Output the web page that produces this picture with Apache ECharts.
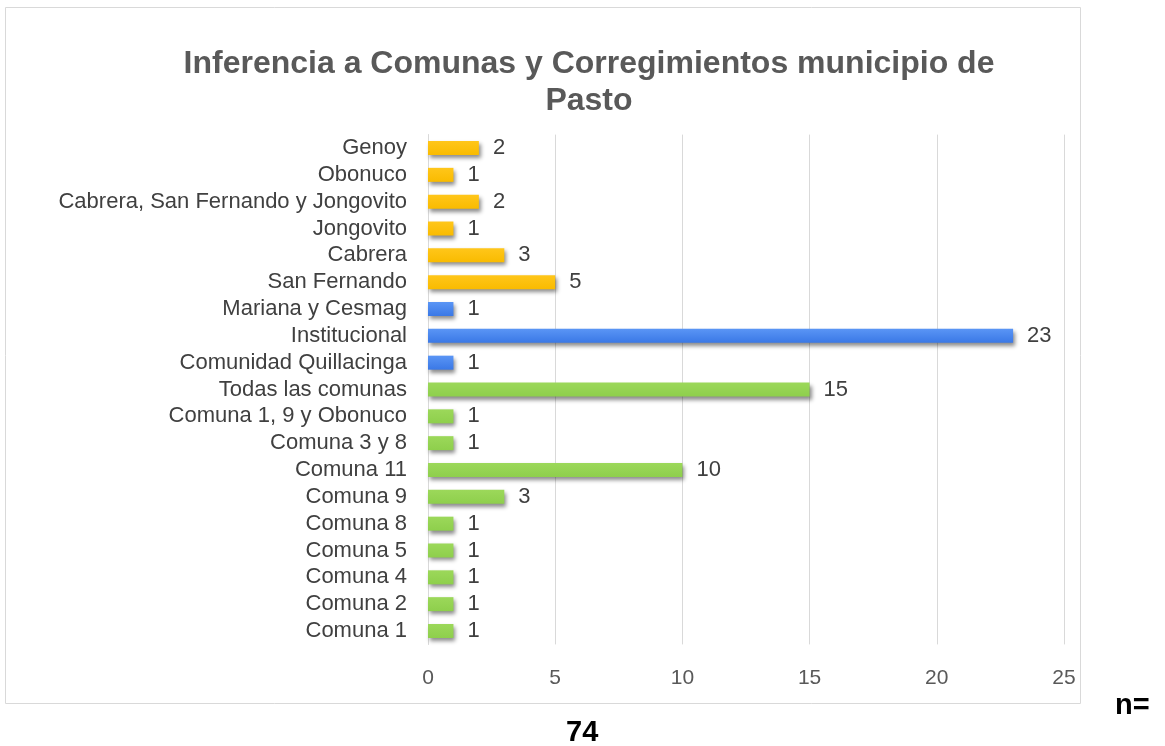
<!DOCTYPE html>
<html>
<head>
    <meta charset="utf-8">
    <title>Inferencia a Comunas y Corregimientos</title>
    <script src="https://cdn.jsdelivr.net/npm/echarts@6/dist/echarts.min.js"></script>
    <style>
        html, body { margin: 0; padding: 0; background: #fff; }
        #chart { width: 1165px; height: 746px; }
    </style>
</head>
<body>
<div id="chart"></div>
<script type="text/javascript">
    // categorias de arriba hacia abajo
    var categorias = ['Genoy', 'Obonuco', 'Cabrera, San Fernando y Jongovito', 'Jongovito', 'Cabrera',
        'San Fernando', 'Mariana y Cesmag', 'Institucional', 'Comunidad Quillacinga', 'Todas las comunas',
        'Comuna 1, 9 y Obonuco', 'Comuna 3 y 8', 'Comuna 11', 'Comuna 9', 'Comuna 8', 'Comuna 5',
        'Comuna 4', 'Comuna 2', 'Comuna 1'];
    var valores = [2, 1, 2, 1, 3, 5, 1, 23, 1, 15, 1, 1, 10, 3, 1, 1, 1, 1, 1];
    // grupo: 0 = corregimientos, 1 = otros, 2 = comunas
    var grupos = [0, 0, 0, 0, 0, 0, 1, 1, 1, 2, 2, 2, 2, 2, 2, 2, 2, 2, 2];
    var ticksX = [0, 5, 10, 15, 20, 25];

    var colores = [
        ['#FFC61A', '#F9BB00'],
        ['#5A95F5', '#3A78E6'],
        ['#9CD85A', '#8ECF4C']
    ];

    var myChart = echarts.init(document.getElementById('chart'));

    var datos = valores.map(function (v, i) {
        var c = colores[grupos[i]];
        return {
            value: v,
            itemStyle: {
                color: new echarts.graphic.LinearGradient(0, 0, 0, 1, [
                    {offset: 0, color: c[0]},
                    {offset: 1, color: c[1]}
                ])
            }
        };
    });

    myChart.setOption({
        animation: false,
        title: {
            text: 'Inferencia a Comunas y Corregimientos municipio de\nPasto',
            left: 584,
            textAlign: 'center',
            top: 41,
            textStyle: {
                fontFamily: 'Liberation Sans, Arial',
                fontSize: 32,
                fontWeight: 'bold',
                color: '#595959',
                lineHeight: 37
            }
        },
        graphic: [
            {
                type: 'rect',
                shape: {x: 5.5, y: 7.5, width: 1075, height: 696},
                style: {fill: 'none', stroke: '#d9d9d9', lineWidth: 1},
                z: -1
            },
            {
                type: 'text',
                left: 1115,
                top: 691,
                style: {text: 'n=', font: 'bold 29px "Liberation Sans", Arial', fill: '#000'}
            },
            {
                type: 'text',
                left: 566,
                top: 718,
                style: {text: '74', font: 'bold 29px "Liberation Sans", Arial', fill: '#000'}
            }
        ],
        grid: {
            left: 428,
            right: 101,
            top: 134.6,
            bottom: 101.6
        },
        xAxis: {
            type: 'value',
            min: 0,
            max: 25,
            interval: 5,
            axisLine: {show: false},
            axisTick: {show: false},
            splitLine: {lineStyle: {color: '#d9d9d9', width: 1}},
            axisLabel: {
                margin: 23,
                fontFamily: 'Liberation Sans, Arial',
                fontSize: 21,
                color: '#595959',
                formatter: function (v) { return ticksX.indexOf(v) >= 0 ? String(v) : ''; }
            }
        },
        yAxis: {
            type: 'category',
            inverse: true,
            data: categorias,
            axisLine: {show: true, lineStyle: {color: '#d9d9d9'}},
            axisTick: {show: false},
            axisLabel: {
                interval: 0,
                margin: 21,
                fontFamily: 'Liberation Sans, Arial',
                fontSize: 22,
                color: '#404040'
            }
        },
        series: [{
            type: 'bar',
            data: datos,
            barWidth: 14,
            itemStyle: {
                shadowColor: 'rgba(0,0,0,0.45)',
                shadowBlur: 4,
                shadowOffsetX: 2,
                shadowOffsetY: 3
            },
            label: {
                show: true,
                position: 'right',
                distance: 14,
                fontFamily: 'Liberation Sans, Arial',
                fontSize: 22,
                color: '#404040'
            }
        }]
    });
</script>
</body>
</html>
